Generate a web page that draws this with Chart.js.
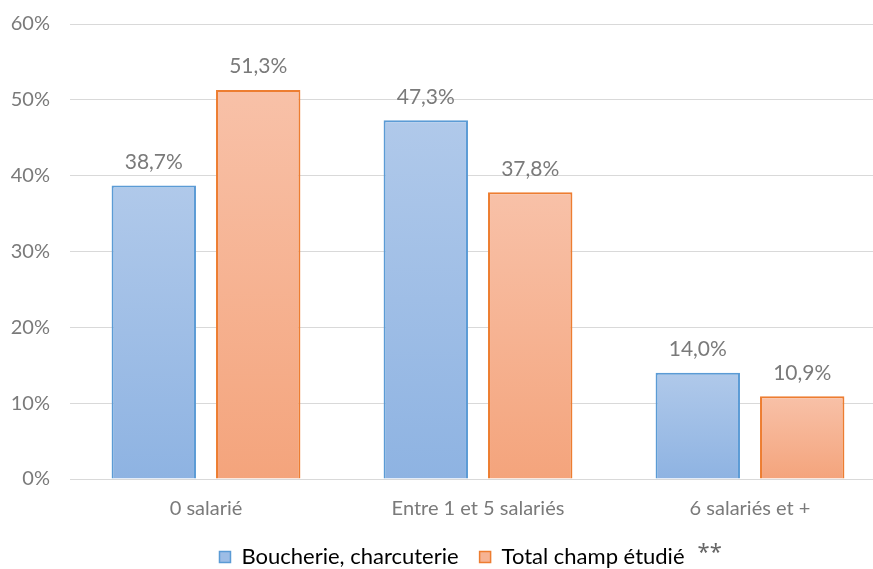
<!DOCTYPE html>
<html>
<head>
<meta charset="utf-8">
<script src="https://cdn.jsdelivr.net/npm/chart.js@4/dist/chart.umd.min.js"></script>
<style>
	html, body { margin: 0; padding: 0; background: #fff; overflow: hidden; }
	#wrap { width: 886px; height: 569px; }
</style>
</head>
<body>
<div id="wrap"><canvas id="chart"></canvas></div>
<script>
const categories = ['0 salarié', 'Entre 1 et 5 salariés', '6 salariés et +'];
const boucherie = [38.7, 47.3, 14.0];
const totalChamp = [51.3, 37.8, 10.9];
const seriesNames = ['Boucherie, charcuterie', 'Total champ étudié'];
const yTicks = [0, 10, 20, 30, 40, 50, 60];

const FONT = 'Lato, "Noto Sans", sans-serif';
const TEXT = '#7a7a7a';
const LEGEND_DX = 9;
const LEGEND_DY = 11;

function barGradient (top, bottom) {
	return ctx => {
		const chart = ctx.chart;
		if (!chart.chartArea || ctx.type !== 'data') return top;
		const y = chart.scales.y;
		const yTop = y.getPixelForValue(ctx.raw);
		const yBase = y.getPixelForValue(0);
		const g = chart.ctx.createLinearGradient(0, yTop, 0, yBase);
		g.addColorStop(0, top);
		g.addColorStop(1, bottom);
		return g;
	};
}

const fmt = v => v.toFixed(1).replace('.', ',') + '%';

const valueLabels = {
	id: 'valueLabels',
	afterDatasetsDraw (chart) {
		const ctx = chart.ctx;
		ctx.save();
		ctx.font = '21px ' + FONT;
		ctx.fillStyle = TEXT;
		ctx.textAlign = 'center';
		ctx.textBaseline = 'bottom';
		chart.data.datasets.forEach((ds, i) => {
			chart.getDatasetMeta(i).data.forEach((bar, j) => {
				ctx.fillText(fmt(ds.data[j]), bar.x, bar.y - 13);
			});
		});
		ctx.restore();
	}
};

// move the legend a bit, like in the original, and add the "**" note
const legendTweaks = {
	id: 'legendTweaks',
	afterLayout (chart) {
		const legend = chart.legend;
		legend.left += LEGEND_DX;
		legend.right += LEGEND_DX;
		legend.top += LEGEND_DY;
		legend.bottom += LEGEND_DY;
		(legend.legendHitBoxes || []).forEach(b => { b.left += LEGEND_DX; b.top += LEGEND_DY; });
	},
	afterDraw (chart) {
		const legend = chart.legend;
		if (!legend || !legend.legendHitBoxes) return;
		const box = legend.legendHitBoxes[1];
		const ctx = chart.ctx;
		ctx.save();
		ctx.font = '22px "Noto Sans", sans-serif';
		ctx.fillStyle = '#666';
		ctx.textAlign = 'left';
		ctx.textBaseline = 'top';
		ctx.fillText('**', box.left + box.width + 13, box.top - 15);
		ctx.restore();
	}
};

const config = {
	type: 'bar',
	data: {
		labels: categories,
		datasets: [
			{
				label: seriesNames[0],
				data: boucherie,
				backgroundColor: barGradient('#b0c9ea', '#8eb3e2'),
				borderColor: '#5b9bd5',
				borderWidth: 2,
				borderSkipped: 'bottom'
			},
			{
				label: seriesNames[1],
				data: totalChamp,
				backgroundColor: barGradient('#f8c1a8', '#f4a47c'),
				borderColor: '#ed7d31',
				borderWidth: 2,
				borderSkipped: 'bottom'
			}
		]
	},
	options: {
		responsive: true,
		maintainAspectRatio: false,
		animation: false,
		categoryPercentage: 0.768,
		barPercentage: 0.808,
		layout: { padding: { top: 24, left: 0, right: 0, bottom: 2 } },
		plugins: {
			tooltip: { enabled: false },
			legend: {
				position: 'bottom',
				labels: {
					font: { family: FONT, size: 22 },
					color: '#666',
					boxWidth: 11,
					boxHeight: 11,
					padding: 10,
					generateLabels: chart => chart.data.datasets.map((ds, i) => ({
						// an en space widens the gap between the two entries
						text: i === 0 ? ds.label + '\u2002' : ds.label,
						fillStyle: i === 0 ? '#9dbde6' : '#f6b393',
						strokeStyle: ds.borderColor,
						lineWidth: 1.5,
						datasetIndex: i
					}))
				}
			}
		},
		scales: {
			x: {
				grid: { display: false, drawTicks: false },
				border: { display: false },
				ticks: { font: { family: FONT, size: 20 }, color: TEXT, padding: 18 },
				afterFit: scale => { scale.height = 46; }
			},
			y: {
				min: 0,
				max: 60,
				afterBuildTicks: scale => { scale.ticks = yTicks.map(v => ({ value: v })); },
				grid: { color: '#d9d9d9', lineWidth: 1, drawTicks: false },
				border: { display: false },
				ticks: {
					font: { family: FONT, size: 20 },
					color: TEXT,
					padding: 20,
					callback: v => v + '%'
				},
				afterFit: scale => {
					scale.width = 70;
					scale.paddingTop = 0;
					scale.paddingBottom = 0;
				}
			}
		}
	},
	plugins: [valueLabels, legendTweaks]
};

new Chart(document.getElementById('chart'), config);
</script>
</body>
</html>
